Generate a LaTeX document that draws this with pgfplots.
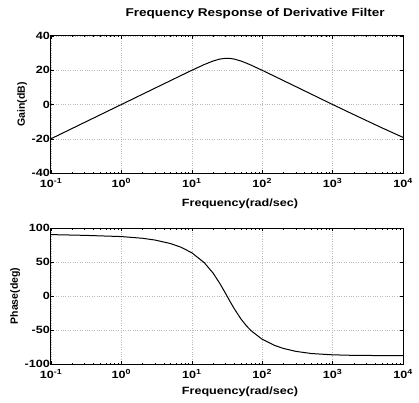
\documentclass[border=0pt]{standalone}
\usepackage{fontspec}
\setmainfont{Liberation Sans}[FakeStretch=1.2]
\newfontfamily\vfont{Liberation Sans}
\usepackage{pgfplots}
\pgfplotsset{compat=1.18}
\pgfplotsset{
  bode/.style={
    xmin=0.1, xmax=10000,
    scale only axis, width=352pt,
    xtick={0.1,1,10,100,1000,10000},
    xticklabels={10\textsuperscript{-1},10\textsuperscript{0},10\textsuperscript{1},10\textsuperscript{2},10\textsuperscript{3},10\textsuperscript{4}},
    grid=major,
    major grid style={dotted, gray!55, line width=0.5pt},
    tick align=inside, major tick length=3pt, minor tick length=1.5pt,
    axis line style={line width=1pt},
    tick style={black, line width=0.5pt},
    /pgf/number format/assume math mode=true,
    tick label style={font=\bfseries\fontsize{10.5}{12}\selectfont},
    yticklabel style={inner xsep=1pt},
    xticklabel style={inner ysep=0pt, yshift=-5pt},
    xlabel style={font=\bfseries\fontsize{10.5}{12}\selectfont, anchor=center},
    ylabel style={font=\vfont\bfseries\fontsize{10.5}{12}\selectfont, anchor=center},
  }
}
\begin{document}
\begin{tikzpicture}
\path (-51pt,-38pt) rectangle (368pt,364pt);
\begin{semilogxaxis}[bode,
  at={(0pt,191pt)}, anchor=south west,
  height=137pt,
  ymin=-40, ymax=40, ytick={-40,-20,0,20,40},
  title={Frequency Response of Derivative Filter},
  title style={at={(axis description cs:0.58,1.117)}, anchor=center, font=\bfseries\fontsize{11.3}{12}\selectfont},
  xlabel={Frequency(rad/sec)},
  xlabel style={at={(axis description cs:0.537,-0.226)}},
  ylabel={Gain(dB)},
  ylabel style={at={(axis description cs:-0.082,0.5)}},
]
\addplot[black, line width=1pt] coordinates {
(0.1,-20) (0.2,-13.98) (0.5,-6.02) (1,0) (2,6.02) (3,9.54) (5,13.98) (7,16.89)
(10,19.96) (15,23.31) (20,25.38) (25,26.53) (30,26.96) (35,26.90) (40,26.53)
(50,25.38) (60,24.11) (70,22.92) (100,19.96) (150,16.47) (200,13.98) (300,10.46)
(500,6.02) (700,3.1) (1000,0) (2000,-5.9) (5000,-13.6) (10000,-19.2)
};
\end{semilogxaxis}
\begin{semilogxaxis}[bode,
  at={(0pt,0pt)}, anchor=south west,
  height=136pt,
  ymin=-100, ymax=100, ytick={-100,-50,0,50,100},
  xlabel={Frequency(rad/sec)},
  xlabel style={at={(axis description cs:0.537,-0.206)}},
  ylabel={Phase(deg)},
  ylabel style={at={(axis description cs:-0.102,0.5)}},
]
\addplot[black, line width=1pt] coordinates {
(0.1,90.3) (0.3,89.2) (1,87.4) (2,84.9) (3,82.3) (5,77.1) (7,71.8) (10,63.6)
(15,49.1) (20,33.9) (25,18.5) (30,4.3) (35,-8.2) (40,-18.5) (50,-33.9) (60,-44.1)
(70,-51.3) (100,-63.6) (150,-72.7) (200,-77.1) (300,-81.4) (500,-84.6) (1000,-86.5)
(2000,-87.3) (5000,-87.6) (10000,-87.8)
};
\end{semilogxaxis}
\end{tikzpicture}
\end{document}
